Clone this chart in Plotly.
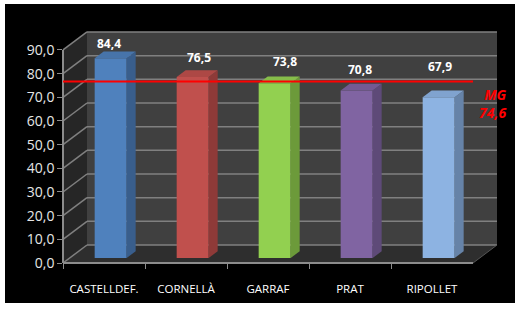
import plotly.graph_objects as go

# ---- data ----
categories = ["CASTELLDEF.", "CORNELLÀ", "GARRAF", "PRAT", "RIPOLLET"]
values = [84.4, 76.5, 73.8, 70.8, 67.9]
mg_value = 74.6
y_ticks = [0, 10, 20, 30, 40, 50, 60, 70, 80, 90]

# ---- style ----
front_colors = ["#4f81bd", "#c0504d", "#92d050", "#8064a2", "#8db3e2"]
side_colors = ["#395e8c", "#8e3a38", "#6c9a3a", "#5e4a78", "#6683a8"]
top_colors = ["#4774aa", "#ad4845", "#86bd4a", "#735a92", "#80a3cf"]
label_xshift = [-6, 2, 6, -1, -3]     # px nudges of the value labels
label_yshift = [11, 16, 18, 18, 27]

W, H = 517, 312
AX_LEFT, AX_BOTTOM = 63, 263          # front axis origin (px)
PX_CAT, PX_UNIT = 82, 2.367            # px per category / per value unit
DEPTH_PX_X, DEPTH_PX_Y = 24, 18        # back wall offset (px)

DX = DEPTH_PX_X / PX_CAT
DY = DEPTH_PX_Y / PX_UNIT
Z_FRONT = 5 / 18
BAR_DEPTH = 0.375
BAR_W = 32 / PX_CAT
YMAX = y_ticks[-1]
n = len(categories)

x0 = -0.5 - AX_LEFT / PX_CAT
x1 = x0 + W / PX_CAT
y0 = -(H - AX_BOTTOM) / PX_UNIT
y1 = AX_BOTTOM / PX_UNIT

fig = go.Figure()
shapes = []

# background black box
shapes.append(dict(type="rect", xref="paper", yref="paper", x0=5 / W, x1=515 / W,
                   y0=(H - 303) / H, y1=(H - 4) / H, fillcolor="#000000",
                   line=dict(width=0), layer="below"))

def poly(pts):
    return "M " + " L ".join(f"{x},{y}" for x, y in pts) + " Z"

L, R = -0.5, n - 0.5
# back wall
shapes.append(dict(type="path", xref="x", yref="y", layer="below",
                   path=poly([(L + DX, DY), (R + DX, DY), (R + DX, YMAX + DY), (L + DX, YMAX + DY)]),
                   fillcolor="#404040", line=dict(width=0)))
# side wall
shapes.append(dict(type="path", xref="x", yref="y", layer="below",
                   path=poly([(L, 0), (L + DX, DY), (L + DX, YMAX + DY), (L, YMAX)]),
                   fillcolor="#262626", line=dict(width=0)))
# floor
shapes.append(dict(type="path", xref="x", yref="y", layer="below",
                   path=poly([(L, 0), (R, 0), (R + DX, DY), (L + DX, DY)]),
                   fillcolor="#2e2e2e", line=dict(width=0)))
# gridlines
for v in y_ticks:
    shapes.append(dict(type="line", xref="x", yref="y", layer="below",
                       x0=L + DX, x1=R + DX, y0=v + DY, y1=v + DY,
                       line=dict(color="#808080", width=1.5)))
    shapes.append(dict(type="line", xref="x", yref="y", layer="below",
                       x0=L, x1=L + DX, y0=v, y1=v + DY,
                       line=dict(color="#808080", width=1.5)))
# floor right edge
shapes.append(dict(type="line", xref="x", yref="y", layer="below",
                   x0=R, x1=R + DX, y0=0, y1=DY, line=dict(color="#555555", width=1)))

# bars: front faces
base = DY * Z_FRONT
xc = [i + DX * Z_FRONT for i in range(n)]
fig.add_trace(go.Bar(x=xc, y=values, base=[base] * n, width=BAR_W,
                     marker=dict(color=front_colors, line=dict(width=0)),
                     hoverinfo="skip", showlegend=False))

ddx, ddy = DX * BAR_DEPTH, DY * BAR_DEPTH
annotations = []
for i, v in enumerate(values):
    xl, xr = xc[i] - BAR_W / 2, xc[i] + BAR_W / 2
    b, t = base, base + v
    side = [(xr, b), (xr + ddx, b + ddy), (xr + ddx, t + ddy), (xr, t), (xr, b)]
    top = [(xl, t), (xr, t), (xr + ddx, t + ddy), (xl + ddx, t + ddy), (xl, t)]
    for pts, col in ((side, side_colors[i]), (top, top_colors[i])):
        fig.add_trace(go.Scatter(x=[p[0] for p in pts], y=[p[1] for p in pts],
                                 fill="toself", fillcolor=col, mode="lines",
                                 line=dict(width=0, color=col), hoverinfo="skip",
                                 showlegend=False))
    annotations.append(dict(x=xc[i] + ddx / 2, y=t + ddy / 2, xref="x", yref="y",
                            text=f"{v:.1f}".replace(".", ","), showarrow=False,
                            xshift=label_xshift[i], yshift=label_yshift[i],
                            font=dict(family="Open Sans", size=12,
                                      color="#ffffff", weight="bold")))

# MG line
shapes.append(dict(type="line", xref="x", yref="y", layer="above",
                   x0=L, x1=R, y0=mg_value + base, y1=mg_value + base,
                   line=dict(color="#ff0000", width=2)))
annotations.append(dict(x=508 / W, y=(H - 103) / H, xref="paper", yref="paper",
                        xanchor="right", yanchor="middle", align="right",
                        text="<i>MG<br>" + f"{mg_value:.1f}".replace(".", ",") + "</i>",
                        showarrow=False,
                        font=dict(family="Open Sans", size=14, color="#ff0000", weight="bold")))

# dummy trace for front axes
fig.add_trace(go.Scatter(x=categories, y=[None] * n, xaxis="x2", yaxis="y2",
                         mode="markers", marker=dict(opacity=0), hoverinfo="skip",
                         showlegend=False))

fig.update_layout(
    width=W, height=H, margin=dict(l=0, r=0, t=0, b=0, pad=0, autoexpand=False),
    paper_bgcolor="#ffffff", plot_bgcolor="rgba(0,0,0,0)",
    separators=",.", showlegend=False, barmode="overlay",
    shapes=shapes, annotations=annotations,
    xaxis=dict(range=[x0, x1], domain=[0, 1], visible=False, fixedrange=True, automargin=False),
    yaxis=dict(range=[y0, y1], domain=[0, 1], visible=False, fixedrange=True, automargin=False),
    xaxis2=dict(type="category", categoryorder="array", categoryarray=categories,
                range=[-0.5, n - 0.5], domain=[AX_LEFT / W, (AX_LEFT + n * PX_CAT) / W],
                anchor="free", position=(H - AX_BOTTOM) / H, automargin=False,
                showline=True, linecolor="#8c8c8c", linewidth=1.5,
                ticks="outside", tickson="boundaries", ticklen=5, tickcolor="#8c8c8c",
                showgrid=False, zeroline=False, ticklabelstandoff=15, fixedrange=True,
                tickfont=dict(family="Open Sans", size=11.5, color="#ffffff")),
    yaxis2=dict(range=[0, YMAX], tickvals=y_ticks, tickformat=".1f",
                domain=[(H - AX_BOTTOM) / H, (H - AX_BOTTOM + YMAX * PX_UNIT) / H],
                anchor="free", position=AX_LEFT / W, automargin=False,
                showline=True, linecolor="#8c8c8c", linewidth=1.5,
                ticks="outside", ticklen=5, tickcolor="#8c8c8c",
                showgrid=False, zeroline=False, fixedrange=True,
                tickfont=dict(family="Open Sans", size=14, color="#e6e6e6")),
)

fig.write_html("out.html", config={"displayModeBar": False},
               post_script="document.body.style.margin='0';document.body.style.overflow='hidden';")
